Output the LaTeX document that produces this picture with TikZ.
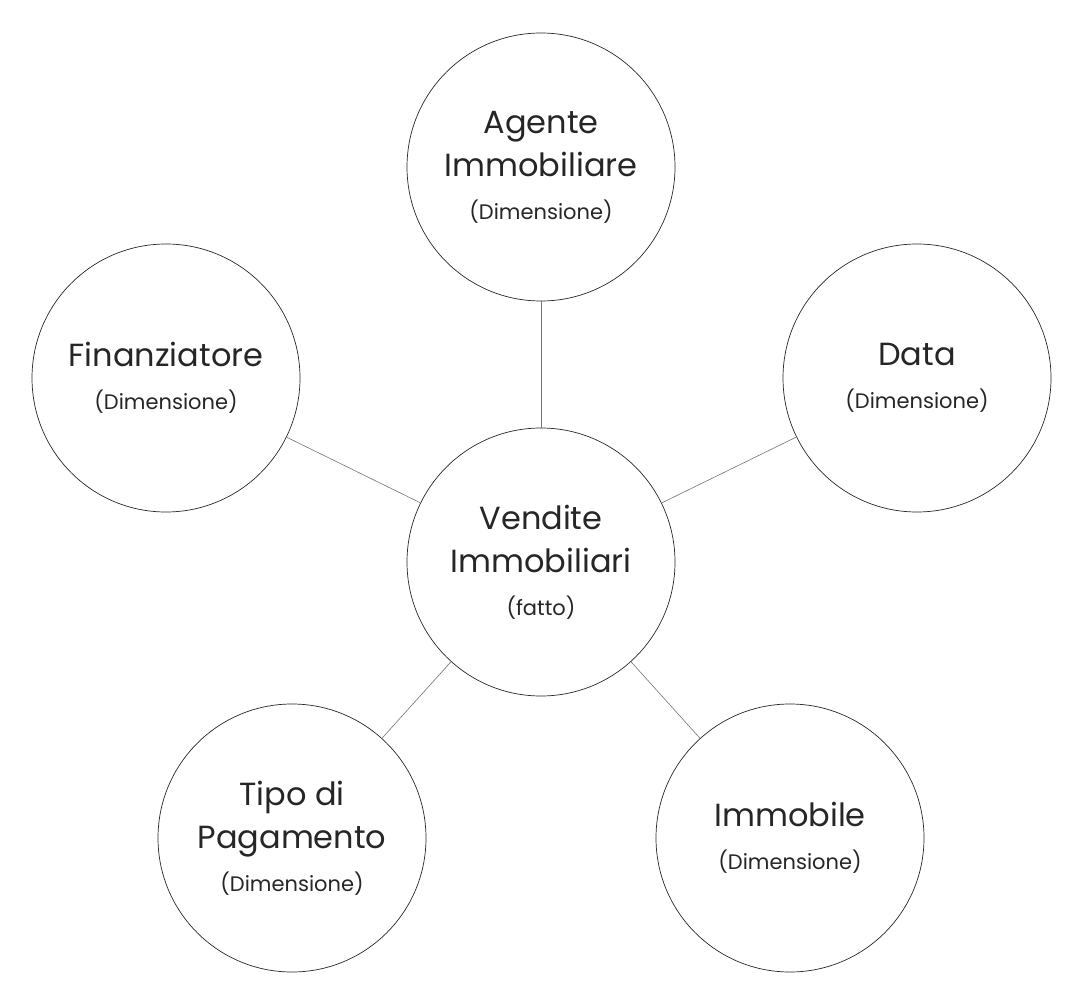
\documentclass[tikz,border=0pt]{standalone}
\usepackage{fontspec}
\setmainfont{Poppins}
\begin{document}
\begin{tikzpicture}[x=1pt,y=-1pt,
  bub/.style={circle,draw=black!85,line width=0.7pt,minimum size=268pt,inner sep=0pt,align=center,text=black!85,font=\fontsize{32}{43}\selectfont},
  link/.style={draw=black!55,line width=0.6pt}]
\useasboundingbox (0,0) rectangle (1084,992);
\newcommand{\subt}[1]{{\fontsize{21}{30}\selectfont #1}}
\node[bub] (c) at (541,562) {Vendite\\Immobiliari\\\subt{(fatto)}};
\node[bub] (t) at (541,167) {Agente\\Immobiliare\\\subt{(Dimensione)}};
\node[bub] (l) at (166,378) {Finanziatore\\\subt{(Dimensione)}};
\node[bub] (r) at (917,378) {Data\\\subt{(Dimensione)}};
\node[bub] (bl) at (292,838) {Tipo di\\Pagamento\\\subt{(Dimensione)}};
\node[bub] (br) at (790,838) {Immobile\\\subt{(Dimensione)}};
\foreach \n in {t,l,r,bl,br} \draw[link] (c) -- (\n);
\end{tikzpicture}
\end{document}
